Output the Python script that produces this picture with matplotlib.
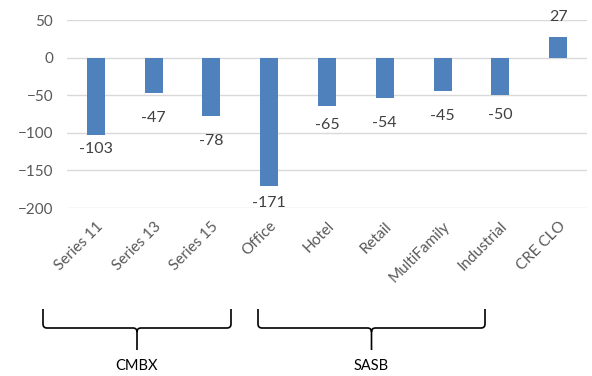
import matplotlib
matplotlib.use("Agg")
import matplotlib.pyplot as plt
from matplotlib.path import Path
from matplotlib.patches import PathPatch

categories = ["Series 11", "Series 13", "Series 15", "Office", "Hotel",
              "Retail", "MultiFamily", "Industrial", "CRE CLO"]
values = [-103, -47, -78, -171, -65, -54, -45, -50, 27]
groups = [("CMBX", 0, 2), ("SASB", 3, 7)]

# hand-placed label distance from bar end (pixels)
label_gap = [14, 25, 25, 17, 19, 25, 25, 20, 20]

plt.rcParams["font.family"] = ["Lato", "DejaVu Sans"]

fig = plt.figure(figsize=(5.92, 3.76), dpi=100)
ax = fig.add_axes([67 / 592, 1 - 208 / 376, 520 / 592, 188 / 376])

x = list(range(len(categories)))
ax.bar(x, values, width=0.31, color="#4F81BD", zorder=3)
ax.set_xlim(-0.5, len(categories) - 0.5)
ax.set_ylim(-200, 50)
ax.set_yticks([50, 0, -50, -100, -150, -200])
ax.grid(axis="y", color="#D9D9D9", linewidth=1, zorder=0)
for s in ax.spines.values():
    s.set_visible(False)
ax.tick_params(length=0, colors="#595959", labelsize=11)
ax.tick_params(axis="y", pad=10)
ax.set_xticks(x)
ax.set_xticklabels(categories, rotation=45, ha="right", rotation_mode="anchor")
ax.tick_params(axis="x", pad=8)

for xi, v, g in zip(x, values, label_gap):
    ax.annotate(str(v), (xi, v), xytext=(0, -g if v < 0 else g),
                textcoords="offset pixels", ha="center", va="center",
                fontsize=11.5, color="#404040")


def brace(x0, x1, ytop, ybar, ytip, r=4):
    # curly bracket in pixel coords (origin top-left)
    xm = (x0 + x1) / 2
    H = 376
    pts = [(x0, ytop), (x0, ybar - r), (x0, ybar), (x0 + r, ybar),
           (xm - r, ybar), (xm, ybar), (xm, ybar + r), (xm, ytip),
           (xm, ybar + r), (xm, ybar), (xm + r, ybar),
           (x1 - r, ybar), (x1, ybar), (x1, ybar - r), (x1, ytop)]
    codes = [Path.MOVETO, Path.LINETO, Path.CURVE3, Path.CURVE3,
             Path.LINETO, Path.CURVE3, Path.CURVE3, Path.LINETO,
             Path.MOVETO, Path.CURVE3, Path.CURVE3,
             Path.LINETO, Path.CURVE3, Path.CURVE3, Path.LINETO]
    verts = [(px / 592, 1 - py / H) for px, py in pts]
    fig.patches.append(PathPatch(Path(verts, codes), transform=fig.transFigure,
                                 fill=False, lw=1.2, color="black"))


brace_px = {"CMBX": (43, 231), "SASB": (258, 485)}
for name, i0, i1 in groups:
    bx0, bx1 = brace_px[name]
    brace(bx0, bx1, 309, 328, 350)
    fig.text((bx0 + bx1) / 2 / 592, 1 - 366 / 376, name, ha="center",
             va="center", fontsize=10.5, color="black")

fig.savefig("out.png", dpi=100)
